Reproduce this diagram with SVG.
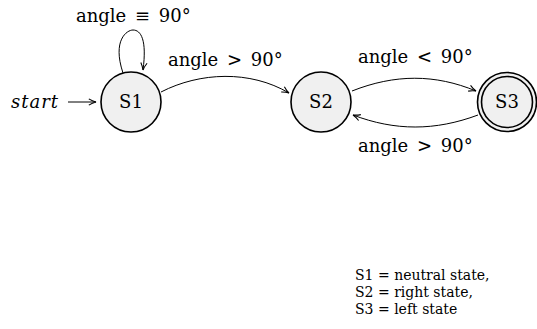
<svg xmlns="http://www.w3.org/2000/svg" width="537" height="329" viewBox="0 0 537 329">
<style>
.st{fill:#f0f0f0;stroke:#000;stroke-width:1.6}
.ed{fill:none;stroke:#000;stroke-width:1}
.lb{font-family:'DejaVu Serif',serif;font-size:18px;word-spacing:3px}
.nm{font-family:'DejaVu Serif',serif;font-size:18px;text-anchor:middle}
.lg{font-family:'DejaVu Serif',serif;font-size:14px}
</style>
<defs>
<marker id="ar" viewBox="0 0 10 10" refX="9" refY="5" markerWidth="9" markerHeight="9" markerUnits="userSpaceOnUse" orient="auto">
<path d="M1,1.5 Q5,4 9,5 Q5,6 1,8.5" fill="none" stroke="#000" stroke-width="1.2"/>
</marker>
</defs>
<rect width="537" height="329" fill="#fff"/>
<g id="connectors">
<path class="ed" d="M68,102 L96,102" marker-end="url(#ar)"/>
<path class="ed" d="M123,73 C112,40 127,30 133,30 C141,30 147,40 143,70" marker-end="url(#ar)"/>
<path class="ed" d="M161,92 C200,72 250,70 289,93" marker-end="url(#ar)"/>
<path class="ed" d="M352,91 C395,74 435,74 476,91" marker-end="url(#ar)"/>
<path class="ed" d="M478,115 C435,131 395,131 353,115" marker-end="url(#ar)"/>
</g>
<g id="labels">
<text class="lb" x="11" y="108" font-style="italic" letter-spacing="1">start</text>
<text class="lb" x="76" y="22">angle ≡ 90°</text>
<text class="lb" x="168" y="66">angle &gt; 90°</text>
<text class="lb" x="358" y="63">angle &lt; 90°</text>
<text class="lb" x="358" y="152">angle &gt; 90°</text>
</g>
<g id="S1"><circle class="st" cx="131" cy="102" r="30"/><text class="nm" x="131" y="108">S1</text></g>
<g id="S2"><circle class="st" cx="321" cy="102" r="30"/><text class="nm" x="321" y="108">S2</text></g>
<g id="S3"><circle class="st" cx="507" cy="102" r="29.5"/><circle class="st" cx="507" cy="102" r="25.5"/><text class="nm" x="507" y="108">S3</text></g>
<g id="legend">
<text class="lg" x="355" y="280">S1 = neutral state,</text>
<text class="lg" x="355" y="297">S2 = right state,</text>
<text class="lg" x="355" y="314">S3 = left state</text>
</g>
</svg>
